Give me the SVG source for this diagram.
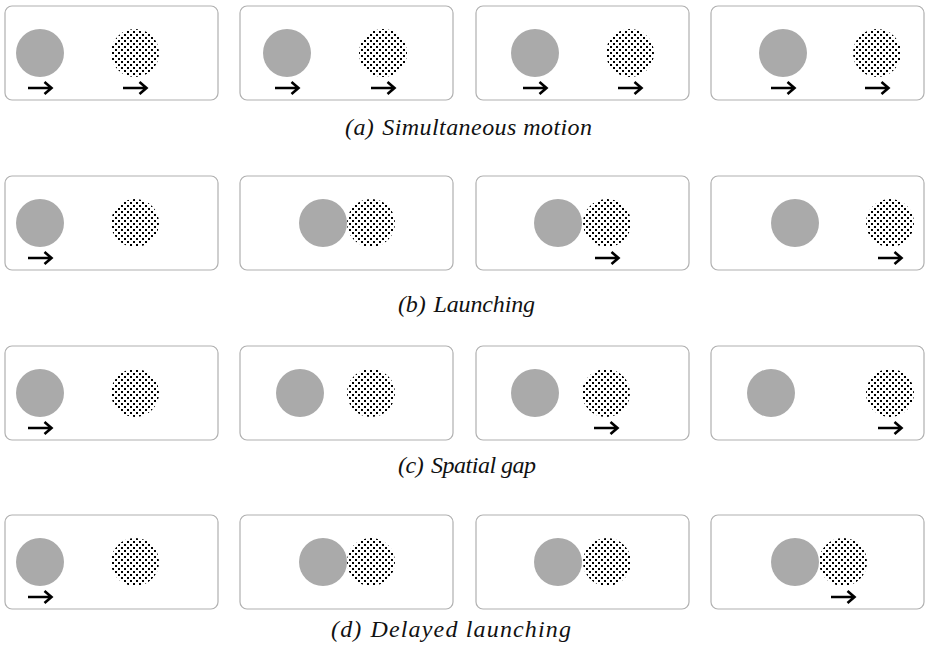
<svg xmlns="http://www.w3.org/2000/svg" width="926" height="649" viewBox="0 0 926 649">
<style>
.frame{fill:#fff;stroke:#b0b0b0;stroke-width:1.2}
.solid{fill:#aaaaaa}
.dots{fill:url(#dotpat)}
.arr{fill:none;stroke:#000;stroke-width:2.6;stroke-linecap:butt;stroke-linejoin:miter}
.cap{font-family:"Liberation Serif","DejaVu Serif",serif;font-style:italic;font-size:24px;fill:#111}
</style>
<defs>
<pattern id="dotpat" patternUnits="userSpaceOnUse" x="0" y="0" width="6" height="6">
<rect x="1" y="1" width="2" height="2" fill="#000" shape-rendering="crispEdges"/>
<rect x="4" y="4" width="2" height="2" fill="#000" shape-rendering="crispEdges"/>
</pattern>
<path id="arrow" class="arr" d="M-12,0 H11 M4.5,-6 L11.5,0 L4.5,6"/>
</defs>
<rect width="926" height="649" fill="#fff"/>

<!-- Row a -->
<g id="a1"><rect class="frame" x="5" y="6" width="213" height="94" rx="7"/><circle class="solid" cx="40" cy="53" r="24"/><circle class="dots" cx="135" cy="53" r="24"/><use href="#arrow" x="40" y="88"/><use href="#arrow" x="135" y="88"/></g>
<g id="a2"><rect class="frame" x="240" y="6" width="213" height="94" rx="7"/><circle class="solid" cx="287" cy="53" r="24"/><circle class="dots" cx="383" cy="53" r="24"/><use href="#arrow" x="287" y="88"/><use href="#arrow" x="383" y="88"/></g>
<g id="a3"><rect class="frame" x="476" y="6" width="213" height="94" rx="7"/><circle class="solid" cx="535" cy="53" r="24"/><circle class="dots" cx="630" cy="53" r="24"/><use href="#arrow" x="535" y="88"/><use href="#arrow" x="630" y="88"/></g>
<g id="a4"><rect class="frame" x="711" y="6" width="213" height="94" rx="7"/><circle class="solid" cx="783" cy="53" r="24"/><circle class="dots" cx="877" cy="53" r="24"/><use href="#arrow" x="783" y="88"/><use href="#arrow" x="877" y="88"/></g>
<text id="labelA" class="cap" x="345" y="135" textLength="247" lengthAdjust="spacing">(a)<tspan dx="8">Simultaneous motion</tspan></text>

<!-- Row b -->
<g id="b1"><rect class="frame" x="5" y="176" width="213" height="94" rx="7"/><circle class="solid" cx="40" cy="223" r="24"/><circle class="dots" cx="135" cy="223" r="24"/><use href="#arrow" x="40" y="258"/></g>
<g id="b2"><rect class="frame" x="240" y="176" width="213" height="94" rx="7"/><circle class="solid" cx="323" cy="223" r="24"/><circle class="dots" cx="371" cy="223" r="24"/></g>
<g id="b3"><rect class="frame" x="476" y="176" width="213" height="94" rx="7"/><circle class="solid" cx="558" cy="223" r="24"/><circle class="dots" cx="607" cy="223" r="24"/><use href="#arrow" x="607" y="258"/></g>
<g id="b4"><rect class="frame" x="711" y="176" width="213" height="94" rx="7"/><circle class="solid" cx="795" cy="223" r="24"/><circle class="dots" cx="890" cy="223" r="24"/><use href="#arrow" x="890" y="258"/></g>
<text id="labelB" class="cap" x="398" y="312" textLength="137" lengthAdjust="spacing">(b)<tspan dx="8">Launching</tspan></text>

<!-- Row c -->
<g id="c1"><rect class="frame" x="5" y="346" width="213" height="94" rx="7"/><circle class="solid" cx="40" cy="393" r="24"/><circle class="dots" cx="135" cy="393" r="24"/><use href="#arrow" x="40" y="428"/></g>
<g id="c2"><rect class="frame" x="240" y="346" width="213" height="94" rx="7"/><circle class="solid" cx="300" cy="393" r="24"/><circle class="dots" cx="371" cy="393" r="24"/></g>
<g id="c3"><rect class="frame" x="476" y="346" width="213" height="94" rx="7"/><circle class="solid" cx="535" cy="393" r="24"/><circle class="dots" cx="606" cy="393" r="24"/><use href="#arrow" x="606" y="428"/></g>
<g id="c4"><rect class="frame" x="711" y="346" width="213" height="94" rx="7"/><circle class="solid" cx="771" cy="393" r="24"/><circle class="dots" cx="890" cy="393" r="24"/><use href="#arrow" x="890" y="428"/></g>
<text id="labelC" class="cap" x="398" y="473" textLength="138" lengthAdjust="spacing">(c)<tspan dx="8">Spatial gap</tspan></text>

<!-- Row d -->
<g id="d1"><rect class="frame" x="5" y="515" width="213" height="94" rx="7"/><circle class="solid" cx="40" cy="562" r="24"/><circle class="dots" cx="135" cy="562" r="24"/><use href="#arrow" x="40" y="597"/></g>
<g id="d2"><rect class="frame" x="240" y="515" width="213" height="94" rx="7"/><circle class="solid" cx="323" cy="562" r="24"/><circle class="dots" cx="371" cy="562" r="24"/></g>
<g id="d3"><rect class="frame" x="476" y="515" width="213" height="94" rx="7"/><circle class="solid" cx="558" cy="562" r="24"/><circle class="dots" cx="607" cy="562" r="24"/></g>
<g id="d4"><rect class="frame" x="711" y="515" width="213" height="94" rx="7"/><circle class="solid" cx="795" cy="562" r="24"/><circle class="dots" cx="843" cy="562" r="24"/><use href="#arrow" x="843" y="597"/></g>
<text id="labelD" class="cap" x="331" y="637" textLength="240" lengthAdjust="spacing">(d)<tspan dx="8">Delayed launching</tspan></text>
</svg>
